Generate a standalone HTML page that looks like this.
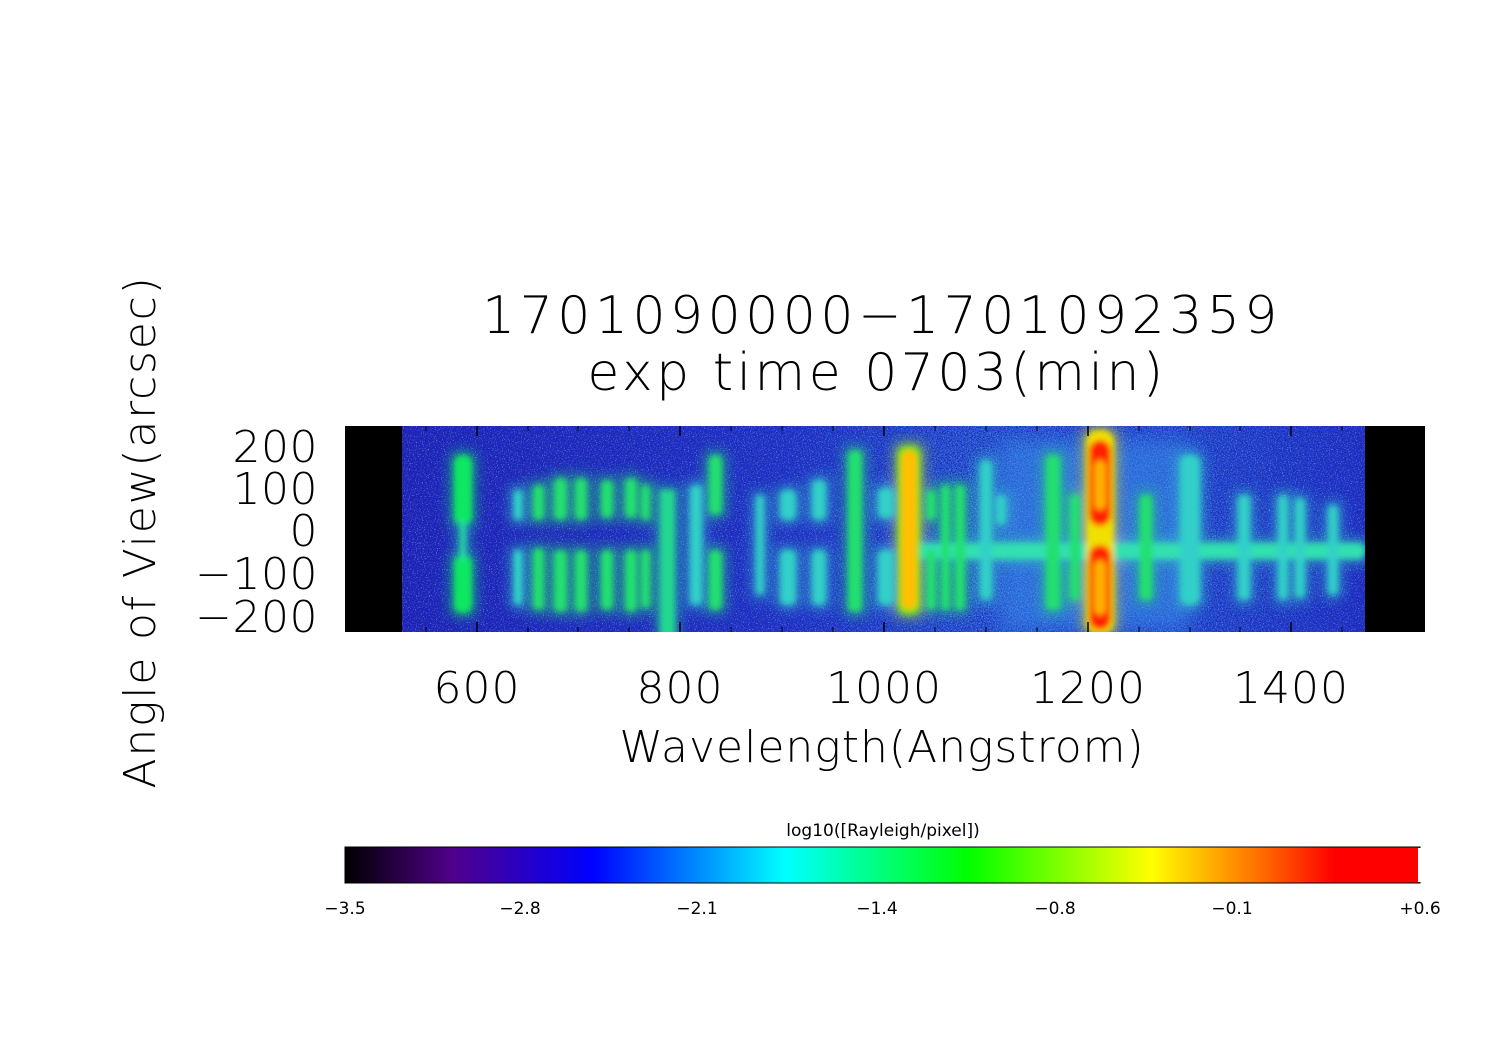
<!DOCTYPE html>
<html><head><meta charset="utf-8"><style>
html,body{margin:0;padding:0;background:#fff;}
svg{display:block;font-family:"DejaVu Sans","Liberation Sans",sans-serif;}
.t{font-weight:200;}
</style></head><body>
<svg width="1497" height="1058" viewBox="0 0 1497 1058" xmlns="http://www.w3.org/2000/svg">
<defs>
<filter id="b3" x="-50%" y="-50%" width="200%" height="200%"><feGaussianBlur stdDeviation="3"/></filter>
<filter id="b8" x="-50%" y="-50%" width="200%" height="200%"><feGaussianBlur stdDeviation="9"/></filter>
<filter id="halo" x="-100%" y="-50%" width="300%" height="200%"><feMorphology operator="dilate" radius="5"/><feGaussianBlur stdDeviation="6"/></filter>
<filter id="noise" x="0" y="0" width="100%" height="100%">
<feTurbulence type="fractalNoise" baseFrequency="0.8" numOctaves="2" seed="3" result="t"/>
<feColorMatrix in="t" type="matrix" values="0 0 0 0 0.02  0 0 0 0 0.02  0 0 0 0 0.3  0 0 0 4 -1.7"/>
</filter>
<filter id="noise2" x="0" y="0" width="100%" height="100%">
<feTurbulence type="fractalNoise" baseFrequency="0.85" numOctaves="2" seed="9" result="t"/>
<feColorMatrix in="t" type="matrix" values="0 0 0 0 0.2  0 0 0 0 0.55  0 0 0 0 1  0 0 0 5 -2.9"/>
</filter>
<linearGradient id="bg" x1="0" x2="1" y1="0" y2="0">
<stop offset="0" stop-color="#1a20c8"/><stop offset="0.4" stop-color="#1c36dc"/>
<stop offset="0.6" stop-color="#2660ea"/><stop offset="0.8" stop-color="#2258e8"/>
<stop offset="1" stop-color="#1a30d8"/></linearGradient>
<linearGradient id="cb" x1="0" x2="1" y1="0" y2="0">
<stop offset="0" stop-color="#000"/><stop offset="0.1" stop-color="#50008a"/>
<stop offset="0.23" stop-color="#0000ff"/><stop offset="0.41" stop-color="#00ffff"/>
<stop offset="0.58" stop-color="#00ff00"/><stop offset="0.75" stop-color="#ffff00"/>
<stop offset="0.86" stop-color="#ff6000"/><stop offset="0.92" stop-color="#ff0000"/>
<stop offset="1" stop-color="#ff0000"/></linearGradient>
<clipPath id="pc"><rect x="402" y="426" width="963" height="206"/></clipPath>
<g id="lines">
<rect x="900" y="543" width="465" height="16" rx="7" fill="#30e0b0"/>
<rect x="454" y="455" width="18" height="70" rx="8" fill="#10e860"/>
<rect x="454" y="555" width="18" height="58" rx="8" fill="#10e860"/>
<rect x="460" y="520" width="6" height="40" fill="#20e0a0"/>
<g fill="#30d8c8">
<rect x="514" y="490" width="8" height="30" rx="4"/><rect x="514" y="550" width="8" height="55" rx="4"/>
</g>
<g fill="#20e070">
<rect x="533" y="485" width="11" height="35" rx="5"/><rect x="533" y="548" width="11" height="62" rx="5"/>
<rect x="554" y="478" width="13" height="42" rx="6"/><rect x="554" y="550" width="13" height="62" rx="6"/>
<rect x="575" y="478" width="12" height="42" rx="6"/><rect x="575" y="550" width="12" height="62" rx="6"/>
<rect x="601" y="480" width="12" height="38" rx="6"/><rect x="601" y="550" width="12" height="60" rx="6"/>
<rect x="625" y="478" width="12" height="40" rx="6"/><rect x="625" y="550" width="12" height="62" rx="6"/>
<rect x="641" y="485" width="9" height="35" rx="4"/><rect x="641" y="550" width="9" height="58" rx="4"/>
<rect x="709" y="455" width="13" height="60" rx="6"/><rect x="709" y="550" width="13" height="60" rx="6"/>
<rect x="848" y="450" width="14" height="162" rx="6"/>
<rect x="926" y="490" width="10" height="30" rx="5"/><rect x="926" y="550" width="10" height="60" rx="5"/>
<rect x="941" y="485" width="9" height="125" rx="4"/>
<rect x="955" y="485" width="10" height="125" rx="4"/>
<rect x="1046" y="455" width="14" height="155" rx="6"/>
<rect x="1070" y="495" width="10" height="105" rx="4"/>
<rect x="1140" y="495" width="12" height="105" rx="5"/>
</g>
<rect x="660" y="490" width="15" height="150" fill="#20d890"/>
<g fill="#30d0c8">
<rect x="690" y="485" width="12" height="120" rx="5"/>
<rect x="756" y="495" width="8" height="100" rx="4"/>
<rect x="780" y="490" width="16" height="30" rx="6"/><rect x="780" y="550" width="16" height="55" rx="6"/>
<rect x="812" y="480" width="14" height="40" rx="6"/><rect x="812" y="550" width="14" height="55" rx="6"/>
<rect x="878" y="488" width="16" height="30" rx="6"/><rect x="878" y="550" width="16" height="55" rx="6"/>
<rect x="980" y="460" width="12" height="140" rx="6"/>
<rect x="996" y="495" width="10" height="30" rx="5"/>
<rect x="1180" y="455" width="20" height="150" rx="8"/>
<rect x="1238" y="495" width="12" height="105" rx="5"/>
<rect x="1278" y="495" width="10" height="105" rx="5"/>
<rect x="1295" y="498" width="10" height="100" rx="5"/>
<rect x="1328" y="505" width="10" height="90" rx="5"/>
</g>
<rect x="897" y="445" width="24" height="170" rx="10" fill="#60e020"/>
<rect x="901" y="450" width="16" height="160" rx="8" fill="#ffc000"/>
<rect x="1086" y="430" width="28" height="204" rx="12" fill="#f0e000"/>
<rect x="1089" y="440" width="22" height="86" rx="11" fill="#ff2000"/>
<rect x="1089" y="545" width="22" height="85" rx="11" fill="#ff2000"/>
<rect x="1094" y="460" width="12" height="50" rx="6" fill="#ffb000"/>
<rect x="1094" y="560" width="12" height="55" rx="6" fill="#ffb000"/>
</g>
</defs>
<rect width="1497" height="1058" fill="#fff"/>
<rect x="345" y="426" width="1080" height="206" fill="#000"/>
<g clip-path="url(#pc)">
<rect x="402" y="426" width="963" height="206" fill="url(#bg)"/>
<rect x="402" y="426" width="963" height="206" filter="url(#noise)"/>
<rect x="402" y="426" width="963" height="206" filter="url(#noise2)" opacity="0.6"/>
<g filter="url(#b8)" opacity="0.45"><rect x="1000" y="440" width="190" height="190" fill="#3a9cf0"/></g>
<g filter="url(#halo)" opacity="0.45"><use href="#lines" fill="#30b0f0"/></g>
<g filter="url(#b3)"><use href="#lines"/></g>
</g>
<g stroke="#000" stroke-width="1.5">
<path d="M477 426v10M680 426v10M884 426v10M1088 426v10M1291 426v10M477 632v-10M680 632v-10M884 632v-10M1088 632v-10M1291 632v-10"/>
<path d="M375 426v5M426 426v5M528 426v5M578 426v5M629 426v5M731 426v5M782 426v5M833 426v5M935 426v5M986 426v5M1037 426v5M1139 426v5M1190 426v5M1240 426v5M1342 426v5M1393 426v5M375 632v-5M426 632v-5M528 632v-5M578 632v-5M629 632v-5M731 632v-5M782 632v-5M833 632v-5M935 632v-5M986 632v-5M1037 632v-5M1139 632v-5M1190 632v-5M1240 632v-5M1342 632v-5M1393 632v-5" stroke-width="1"/>
<path d="M345 447h12M345 488h12M345 530h12M345 573h12M345 616h12M1425 447h-12M1425 488h-12M1425 530h-12M1425 573h-12M1425 616h-12"/>
</g>
<g stroke="#000" stroke-width="1.2">
<path id="mt" d="M345 430h6M345 434h6M345 438h6M345 443h6M345 451h6M345 455h6M345 459h6M345 463h6M345 467h6M345 471h6M345 475h6M345 480h6M345 484h6M345 492h6M345 496h6M345 500h6M345 505h6M345 509h6M345 513h6M345 517h6M345 521h6M345 526h6M345 534h6M345 538h6M345 543h6M345 547h6M345 551h6M345 556h6M345 560h6M345 564h6M345 569h6M345 577h6M345 581h6M345 586h6M345 590h6M345 594h6M345 599h6M345 603h6M345 607h6M345 612h6M345 620h6M345 624h6M345 628h6"/>
<use href="#mt" transform="translate(1770,0) scale(-1,1)"/>
</g>
<g class="t" font-size="44" fill="#000" text-anchor="end" letter-spacing="0.5">
<text x="318" y="462">200</text><text x="318" y="504">100</text><text x="318" y="546">0</text><text x="318" y="589">−100</text><text x="318" y="632">−200</text>
</g>
<g class="t" font-size="44" fill="#000" text-anchor="middle" letter-spacing="1">
<text x="477" y="703">600</text><text x="680" y="703">800</text><text x="884" y="703">1000</text><text x="1088" y="703">1200</text><text x="1291" y="703">1400</text>
<text x="882" y="762">Wavelength(Angstrom)</text>
<text x="882" y="333" font-size="52" letter-spacing="4.5">1701090000−1701092359</text>
<text x="877" y="390" font-size="52" letter-spacing="3.5">exp time 0703(min)</text>
<text transform="translate(155,532) rotate(-90)" font-size="44" letter-spacing="1.8">Angle of View(arcsec)</text>
</g>
<rect x="345" y="847" width="1075" height="36" fill="url(#cb)" stroke="#000" stroke-width="1"/>
<rect x="1418" y="848" width="3" height="34" fill="#fff"/>
<g font-size="17" fill="#000" text-anchor="middle">
<text x="883" y="836">log10([Rayleigh/pixel])</text>
<text x="345" y="914">−3.5</text><text x="520" y="914">−2.8</text><text x="697" y="914">−2.1</text><text x="877" y="914">−1.4</text><text x="1055" y="914">−0.8</text><text x="1232" y="914">−0.1</text><text x="1420" y="914">+0.6</text>
</g>
</svg>
</body></html>
